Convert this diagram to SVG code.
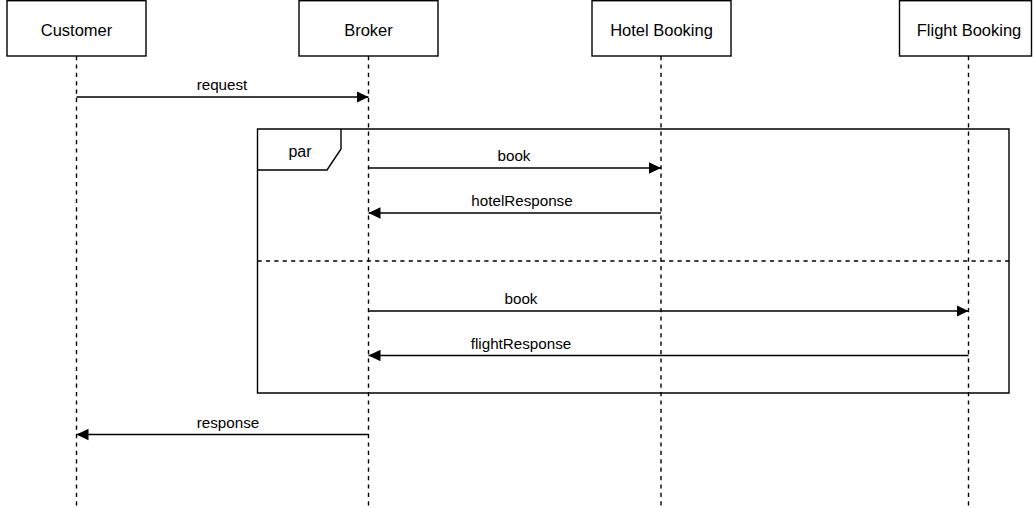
<svg xmlns="http://www.w3.org/2000/svg" width="1033" height="508" viewBox="0 0 1033 508">
<style>
.box{fill:#fff;stroke:#000;stroke-width:1.4}
.life{stroke:#000;stroke-width:1.4;stroke-dasharray:4.2 4.2;fill:none}
.msg{stroke:#000;stroke-width:1.4;fill:none}
.frame{fill:none;stroke:#000;stroke-width:1.4}
.sep{stroke:#000;stroke-width:1.4;stroke-dasharray:4.2 4.2;fill:none}
.t{font-family:"Liberation Sans",Arial,Helvetica,sans-serif;font-size:16.5px;fill:#000;text-anchor:middle}
.m{font-family:"Liberation Sans",Arial,Helvetica,sans-serif;font-size:15.2px;fill:#000;text-anchor:middle}
</style>
<defs>
<marker id="ah" viewBox="0 0 12 12" refX="12" refY="6" markerWidth="12" markerHeight="12" markerUnits="userSpaceOnUse" orient="auto">
<path d="M0,0.3 L12,6 L0,11.7 Z" fill="#000"/>
</marker>
</defs>
<rect width="1033" height="508" fill="#fff"/>
<g id="lifelines">
<line class="life" x1="76.5" y1="56" x2="76.5" y2="508"/>
<line class="life" x1="368.5" y1="56" x2="368.5" y2="508"/>
<line class="life" x1="661" y1="56" x2="661" y2="508"/>
<line class="life" x1="968.5" y1="56" x2="968.5" y2="508"/>
</g>
<g id="par-frame">
<path class="frame" d="M257.5,129 H1009 V393 H257.5 Z"/>
<path class="frame" d="M257.5,170 H327 L341,149 V129"/>
<text class="t" x="300" y="157" style="font-size:16px">par</text>
<line class="sep" x1="257.5" y1="261" x2="1009" y2="261"/>
</g>
<g id="customer"><rect class="box" x="7" y="0.7" width="139" height="55.3"/><text class="t" x="76.5" y="36">Customer</text></g>
<g id="broker"><rect class="box" x="299" y="0.7" width="139" height="55.3"/><text class="t" x="368.5" y="36">Broker</text></g>
<g id="hotel"><rect class="box" x="592" y="0.7" width="139" height="55.3"/><text class="t" x="661.5" y="36">Hotel Booking</text></g>
<g id="flight"><rect class="box" x="899.5" y="0.7" width="132" height="55.3"/><text class="t" x="969" y="36">Flight Booking</text></g>
<g id="connectors">
<line class="msg" x1="76.5" y1="97" x2="368.5" y2="97" marker-end="url(#ah)"/>
<text class="m" x="222" y="90">request</text>
<line class="msg" x1="368.5" y1="168" x2="661" y2="168" marker-end="url(#ah)"/>
<text class="m" x="514" y="161">book</text>
<line class="msg" x1="661" y1="213" x2="368.5" y2="213" marker-end="url(#ah)"/>
<text class="m" x="522" y="206">hotelResponse</text>
<line class="msg" x1="368.5" y1="311" x2="968.5" y2="311" marker-end="url(#ah)"/>
<text class="m" x="521" y="304">book</text>
<line class="msg" x1="968.5" y1="355.5" x2="368.5" y2="355.5" marker-end="url(#ah)"/>
<text class="m" x="521" y="349">flightResponse</text>
<line class="msg" x1="368.5" y1="434.5" x2="76.5" y2="434.5" marker-end="url(#ah)"/>
<text class="m" x="228" y="428">response</text>
</g>
</svg>
